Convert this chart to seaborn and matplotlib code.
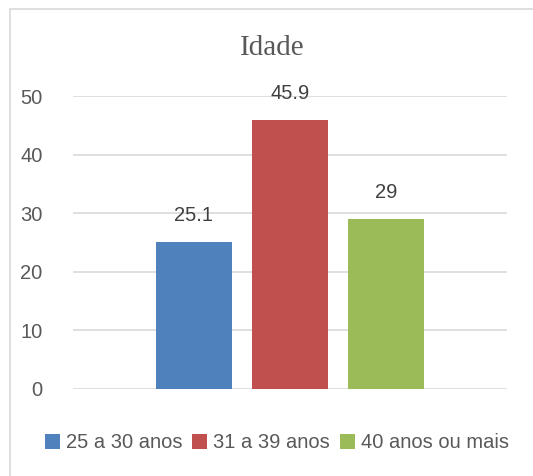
import matplotlib
matplotlib.use("Agg")
import matplotlib.pyplot as plt
import seaborn as sns
import pandas as pd
from matplotlib.patches import Rectangle

grupos = ["25 a 30 anos", "31 a 39 anos", "40 anos ou mais"]
valores = [25.1, 45.9, 29]
rotulos = ["25.1", "45.9", "29"]
cores = ["#4F81BD", "#C0504D", "#9BBB59"]

sns.set_theme(style="white")
plt.rcParams["font.family"] = ["Liberation Sans", "DejaVu Sans"]

data = pd.DataFrame({"cat": [""] * 3, "Idade": valores, "grupo": grupos})

fig = plt.figure(figsize=(5.33, 4.76), dpi=100)
ax = fig.add_axes([73 / 533, 1 - 389 / 476, 434 / 533, 293 / 476])

sns.barplot(
    data=data, x="cat", y="Idade", hue="grupo", palette=cores,
    width=0.664, gap=0.208, ax=ax, saturation=1, legend=True, linewidth=0,
)

ax.set_ylim(0, 50)
ax.set_xlim(-0.5, 0.5)
ax.set_yticks(range(0, 51, 10))
ax.yaxis.grid(True, color="#D9D9D9", linewidth=1.2)
ax.set_axisbelow(True)
for s in ax.spines.values():
    s.set_visible(False)
ax.tick_params(axis="y", length=0, pad=22, labelsize=14.5, labelcolor="#595959")
ax.tick_params(axis="x", length=0)
ax.set_xlabel("")
ax.set_ylabel("")
ax.set_xticklabels([])

for cont, txt in zip(ax.containers, rotulos):
    ax.bar_label(cont, labels=[txt], padding=12, fontsize=14.5, color="#404040")

ax.legend(
    loc="center", bbox_to_anchor=(0.5 + (277 - 290) / 434, -54 / 293),
    ncol=3, frameon=False, fontsize=14.5, handlelength=0.75, handleheight=0.75,
    handletextpad=0.3, columnspacing=0.5, labelcolor="#595959",
)

fig.text(272 / 533, 1 - 48 / 476, "Idade", ha="center", va="center",
         family=["Liberation Serif"], fontsize=21, color="#595959")

fig.patches.append(Rectangle((10 / 533, -0.1), 1.2, 1.1 - 9 / 476,
                             transform=fig.transFigure, fill=False,
                             edgecolor="#D9D9D9", linewidth=1.2))

fig.savefig("out.png", dpi=100)
